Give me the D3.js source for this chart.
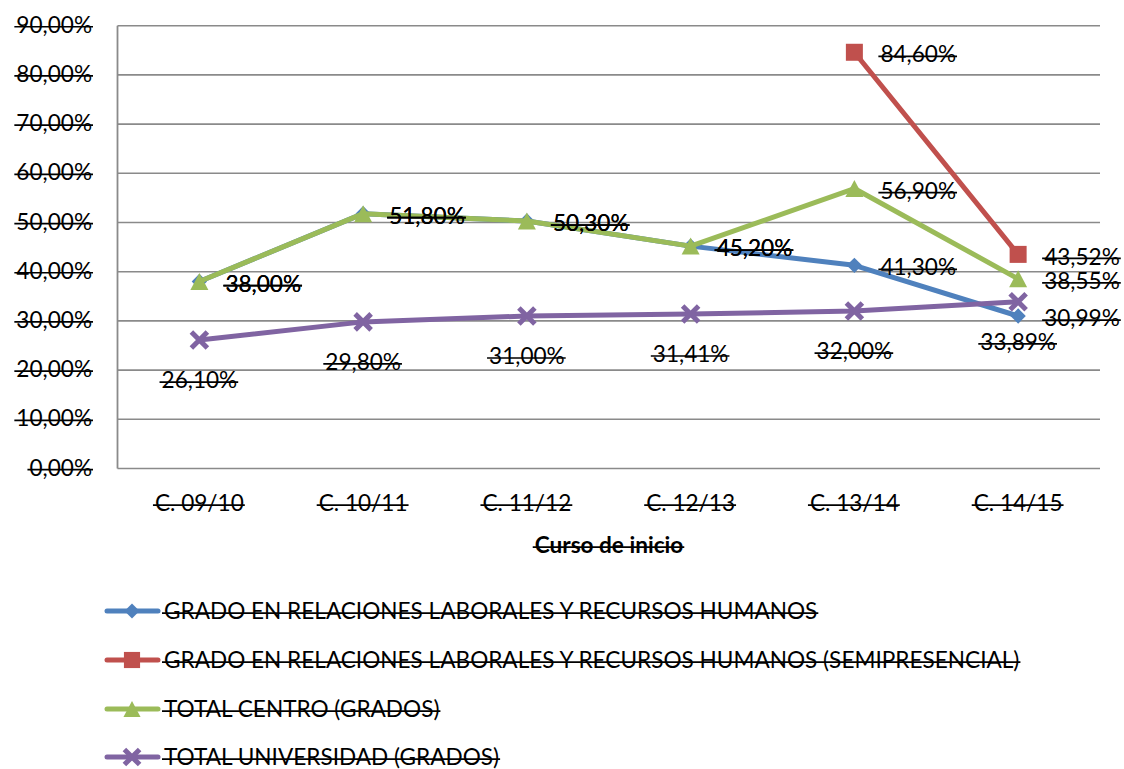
<!DOCTYPE html>
<html><head><meta charset="utf-8">
<script src="https://cdn.jsdelivr.net/npm/d3@7"></script>
<style>html,body{margin:0;padding:0;background:#fff}svg{display:block}</style>
</head><body>
<svg id="chart" width="1124" height="769"></svg>
<script>
const categories = ["C. 09/10","C. 10/11","C. 11/12","C. 12/13","C. 13/14","C. 14/15"];
const seriesNames = [
  "GRADO EN RELACIONES LABORALES Y RECURSOS HUMANOS",
  "GRADO EN RELACIONES LABORALES Y RECURSOS HUMANOS (SEMIPRESENCIAL)",
  "TOTAL CENTRO (GRADOS)",
  "TOTAL UNIVERSIDAD (GRADOS)"
];
const gradoRRLL = [38.00, 51.80, 50.30, 45.20, 41.30, 30.99];
const gradoSemi = [null, null, null, null, 84.60, 43.52];
const totalCentro = [38.00, 51.80, 50.30, 45.20, 56.90, 38.55];
const totalUniv = [26.10, 29.80, 31.00, 31.41, 32.00, 33.89];
const yTicks = [0,10,20,30,40,50,60,70,80,90];
const axisTitle = "Curso de inicio";

const colors = ["#4F81BD","#C0504D","#9BBB59","#8064A2"];
const markers = ["diamond","square","triangle","cross"];
const labelPos = ["right","right","right","below"];
const allValues = [gradoRRLL, gradoSemi, totalCentro, totalUniv];

const FONT = "Lato, 'Open Sans', sans-serif";
const FS = 22.6;
const svg = d3.select("#chart");
const L = 117.5, R = 1100, T = 25.7, B = 468.5;
const x = d3.scalePoint().domain(categories).range([L, R]).padding(0.5);
const y = d3.scaleLinear().domain([0, 90]).range([B, T]);
const fmt = v => d3.format(".2f")(v).replace(".", ",") + "%";

function sText(g, tx, baseY, str, anchor, weight) {
  const t = g.append("text").attr("x", tx).attr("y", baseY)
    .attr("text-anchor", anchor || "start")
    .style("font-family", FONT).style("font-size", FS + "px")
    .style("font-weight", weight || "normal").attr("fill", "#000").text(str);
  const bb = t.node().getBBox();
  g.append("line").attr("x1", bb.x - 2).attr("x2", bb.x + bb.width + 1)
    .attr("y1", baseY - 0.27 * FS).attr("y2", baseY - 0.27 * FS)
    .attr("stroke", "#000").attr("stroke-width", 1.7);
  return t;
}
const capOff = 0.36 * FS;

const grid = svg.append("g");
grid.selectAll("line").data(yTicks).join("line")
  .attr("x1", L).attr("x2", R).attr("y1", d => y(d)).attr("y2", d => y(d))
  .attr("stroke", "#8a8a8a").attr("stroke-width", 1.6);
grid.append("line").attr("x1", L).attr("x2", L).attr("y1", T).attr("y2", B)
  .attr("stroke", "#8a8a8a").attr("stroke-width", 1.8);

const yl = svg.append("g");
yTicks.forEach(v => sText(yl, 92, y(v) + capOff - 1, fmt(v), "end"));

const xl = svg.append("g");
categories.forEach(c => sText(xl, x(c), 503 + capOff, c, "middle"));
sText(svg.append("g"), 609, 545 + capOff, axisTitle, "middle", "bold");

function drawMarker(g, type, cx, cy, color, scale) {
  const s = scale || 1;
  if (type === "diamond") {
    g.append("path").attr("d", d3.symbol().type(d3.symbolDiamond2 || d3.symbolDiamond).size(150 * s)())
      .attr("transform", `translate(${cx},${cy})`).attr("fill", color);
  } else if (type === "square") {
    const h = 8.5 * s;
    g.append("rect").attr("x", cx - h).attr("y", cy - h).attr("width", 2 * h).attr("height", 2 * h).attr("fill", color);
  } else if (type === "triangle") {
    const w = 9 * s, hh = 8.5 * s;
    g.append("path").attr("d", `M${cx},${cy - hh}L${cx + w},${cy + hh}L${cx - w},${cy + hh}Z`).attr("fill", color);
  } else {
    const h = 8 * s;
    g.append("path").attr("d", `M${cx - h},${cy - h}L${cx + h},${cy + h}M${cx - h},${cy + h}L${cx + h},${cy - h}`)
      .attr("stroke", color).attr("stroke-width", 5);
  }
}

const line = d3.line().defined(d => d.v != null).x(d => x(d.c)).y(d => y(d.v));
const seriesG = svg.append("g");
allValues.forEach((vals, i) => {
  const data = categories.map((c, j) => ({c, v: vals[j]}));
  const g = seriesG.append("g");
  g.append("path").datum(data).attr("d", line).attr("fill", "none")
    .attr("stroke", colors[i]).attr("stroke-width", 5).attr("stroke-linejoin", "round").attr("stroke-linecap", "round");
  data.filter(d => d.v != null).forEach(d => drawMarker(g, markers[i], x(d.c), y(d.v), colors[i]));
});

const labG = svg.append("g");
allValues.forEach((vals, i) => {
  categories.forEach((c, j) => {
    const v = vals[j];
    if (v == null) return;
    if (labelPos[i] === "right") sText(labG, x(c) + 26, y(v) + 2 + capOff, fmt(v), "start");
    else sText(labG, x(c), y(v) + 40 + capOff, fmt(v), "middle");
  });
});

const legG = svg.append("g");
const legY = [611, 660, 709, 757];
seriesNames.forEach((n, i) => {
  const ly = legY[i];
  legG.append("line").attr("x1", 107).attr("x2", 158).attr("y1", ly).attr("y2", ly)
    .attr("stroke", colors[i]).attr("stroke-width", 5).attr("stroke-linecap", "round");
  drawMarker(legG, markers[i], 132, ly, colors[i], 0.95);
  sText(legG, 164, ly + capOff, n, "start");
});
</script>
</body></html>
